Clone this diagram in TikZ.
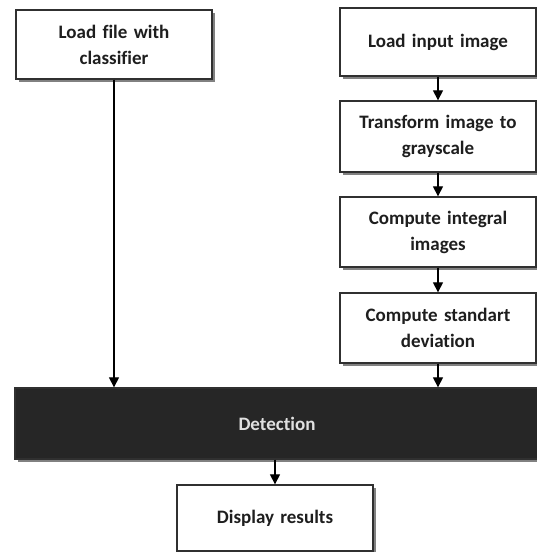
\documentclass[tikz,border=0pt]{standalone}
\usepackage{fontspec}
\setmainfont[Ligatures=NoCommon]{Carlito}
\usetikzlibrary{arrows.meta,shadows}
\definecolor{txt}{HTML}{1E1E1E}
\definecolor{bord}{HTML}{303030}
\definecolor{detfill}{HTML}{262626}
\definecolor{dettxt}{HTML}{E0E0E0}
\tikzset{
  box/.style={draw=bord, line width=1.3pt, fill=white, minimum width=196pt,
    text width=190pt, align=center, text=txt, inner sep=0pt,
    font=\bfseries\fontsize{19}{26}\selectfont,
    drop shadow={shadow xshift=3pt, shadow yshift=-3pt, fill=black!70, opacity=0.7}},
  detbox/.style={box, fill=detfill, text=dettxt, minimum width=524pt, text width=300pt},
  arr/.style={draw=black, line width=1.2pt, -{Triangle[width=10pt,length=10pt]}}
}
\begin{document}
\begin{tikzpicture}[x=1pt,y=-1pt]
\useasboundingbox[fill=white] (0,0) rectangle (537,552);
\node[box, minimum height=69pt] (lf) at (114,44.5) {Load file with\\classifier};
\node[box, minimum height=68pt] (r1) at (438,42) {Load input image};
\node[box, minimum height=71pt] (r2) at (438,136.5) {Transform image to\\grayscale};
\node[box, minimum height=70pt] (r3) at (438,232) {Compute integral\\images};
\node[box, minimum height=70pt] (r4) at (438,328) {Compute standart\\deviation};
\node[detbox, minimum height=71pt] (det) at (277,423.5) {Detection};
\node[box, minimum height=66pt] (disp) at (275,518) {Display results};
\draw[arr] (r1) -- (r2);
\draw[arr] (r2) -- (r3);
\draw[arr] (r3) -- (r4);
\draw[arr] (r4) -- (r4 |- det.north);
\draw[arr] (lf) -- (lf |- det.north);
\draw[arr] (disp |- det.south) -- (disp);
\end{tikzpicture}
\end{document}
